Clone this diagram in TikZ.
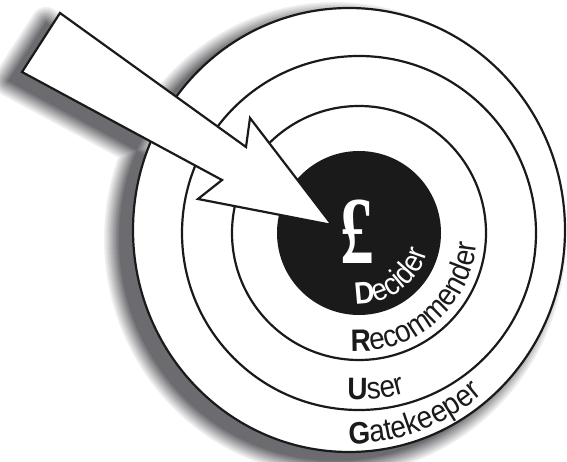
\documentclass[tikz,border=0pt]{standalone}
\usepackage{fontspec}
\usetikzlibrary{decorations.text}
\newfontfamily\labelfam[FakeStretch=0.9]{Liberation Sans}
\newfontfamily\poundfam{Liberation Serif}
\definecolor{Ink}{HTML}{1A1A1A}
\definecolor{Shade}{HTML}{6C6C70}
\newcommand{\rimfont}{\labelfam\fontsize{31}{35}\selectfont}
\newcommand{\rimpath}{(349,231) ellipse [x radius=216,y radius=222]}
\newcommand{\dartpath}{(60,448) -- (246,314) -- (250,343) -- (332,236) -- (198,262) -- (222,281) -- (22,389) -- cycle}

\begin{document}
\rimfont
\begin{tikzpicture}[x=1pt,y=1pt,
    ring/.style={draw=Ink,line width=2.2pt},
    pointer/.style={draw=Ink,fill=white,line width=2.2pt,line join=miter},
    rimtext/.style={decorate,decoration={text along path,#1}}
  ]
  \useasboundingbox (0,0) rectangle (567,461);
  \coordinate (C) at (359,228);
  % soft shadow, lower left
  \begin{scope}[shift={(-14,-9)}]
    \foreach \w [evaluate=\w as \p using int(100-3*\w)] in {30,27,...,3}
      \path[draw=Shade!\p!white,line width=\w pt,line join=round] \rimpath \dartpath;
    \fill[Shade] \rimpath \dartpath;
  \end{scope}
  % target
  \path[ring,fill=white] \rimpath;
  \draw[ring] (C) circle[radius=177];
  \draw[ring] (C) circle[radius=127];
  \fill[Ink] (C) circle[radius=82];
  \node[text=white,font=\poundfam\bfseries\fontsize{96}{100}\selectfont,xscale=0.7] (pound) at (357,229) {£};
  \path[rimtext={text color=white,text={|\bfseries|D|\mdseries|ecider}}]
    (C) ++(-93:71) arc[start angle=-93,end angle=40,radius=71];
  \path[rimtext={text color=Ink,text={|\bfseries|R|\mdseries|ecommender}}]
    (C) ++(-94:118) arc[start angle=-94,end angle=40,radius=118];
  \path[rimtext={text color=Ink,text={|\bfseries|U|\mdseries|ser}}]
    (C) ++(-94:167) arc[start angle=-94,end angle=-40,radius=167];
  \path[rimtext={text color=Ink,text={|\bfseries|G|\mdseries|atekeeper}}]
    (349,231) ++(-90:208 and 214) arc[start angle=-90,end angle=-10,x radius=208,y radius=214];
  % arrow
  \path[pointer] \dartpath;
\end{tikzpicture}
\end{document}
